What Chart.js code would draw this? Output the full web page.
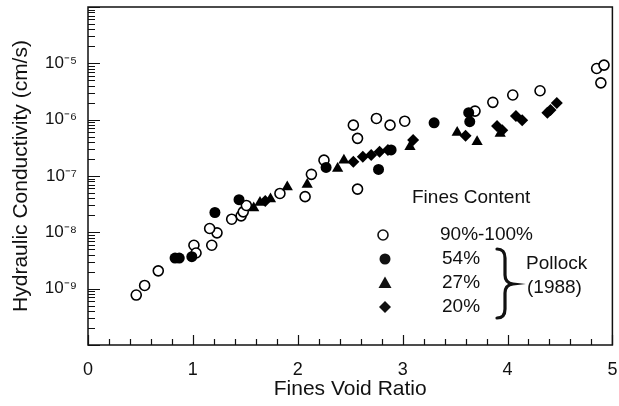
<!DOCTYPE html>
<html>
<head>
<meta charset="utf-8">
<script src="https://cdn.jsdelivr.net/npm/chart.js@4"></script>
<style>
  html, body { margin: 0; padding: 0; background: #fff; }
  #wrap { width: 619px; height: 406px; }
</style>
</head>
<body>
<div id="wrap"><canvas id="c" width="619" height="406"></canvas></div>
<script>
// Fines content 90%-100% (open circles)
const voidRatio90 = [0.46, 0.54, 0.67, 1.01, 1.03, 1.18, 1.23, 1.16, 1.37, 1.46, 1.48, 1.51, 1.83, 2.07, 2.13, 2.25, 2.57, 2.53, 2.57, 2.75, 2.88, 3.02, 3.69, 3.86, 4.05, 4.31, 4.85, 4.92, 4.89];
const k90 = [7.7e-10, 1.14e-9, 2.07e-9, 5.9e-9, 4.3e-9, 5.9e-9, 9.8e-9, 1.17e-8, 1.71e-8, 1.96e-8, 2.31e-8, 3.0e-8, 4.9e-8, 4.3e-8, 1.07e-7, 1.91e-7, 5.85e-8, 8.0e-7, 4.66e-7, 1.05e-6, 8.0e-7, 9.4e-7, 1.42e-6, 2.03e-6, 2.74e-6, 3.26e-6, 8.1e-6, 9.3e-6, 4.5e-6];

// Pollock (1988): 54% fines (filled circles)
const voidRatio54 = [0.83, 0.87, 0.99, 1.21, 1.44, 2.27, 2.77, 2.89, 3.30, 3.63, 3.64];
const k54 = [3.5e-9, 3.5e-9, 3.7e-9, 2.25e-8, 3.8e-8, 1.42e-7, 1.31e-7, 2.9e-7, 8.8e-7, 1.33e-6, 9.2e-7];

// Pollock (1988): 27% fines (triangles)
const voidRatio27 = [1.58, 1.64, 1.74, 1.90, 2.09, 2.38, 2.44, 3.07, 3.52, 3.71, 3.93];
const k27 = [2.7e-8, 3.4e-8, 3.9e-8, 6.4e-8, 7.1e-8, 1.36e-7, 1.9e-7, 3.3e-7, 5.9e-7, 4.05e-7, 5.7e-7];

// Pollock (1988): 20% fines (diamonds)
const voidRatio20 = [1.69, 2.53, 2.62, 2.70, 2.78, 2.86, 3.10, 3.60, 3.90, 3.95, 4.08, 4.14, 4.38, 4.41, 4.47];
const k20 = [3.6e-8, 1.79e-7, 2.19e-7, 2.35e-7, 2.69e-7, 2.88e-7, 4.35e-7, 5.2e-7, 7.7e-7, 6.5e-7, 1.16e-6, 9.8e-7, 1.33e-6, 1.48e-6, 1.97e-6];

// Axis ticks and labels
const xTicks = [0, 1, 2, 3, 4, 5];
const yTicks = [1e-9, 1e-8, 1e-7, 1e-6, 1e-5];
const yTickLabels = ['10⁻⁹', '10⁻⁸', '10⁻⁷', '10⁻⁶', '10⁻⁵'];

// Legend text
const legendTitle = 'Fines Content';
const legendLabels = ['90%-100%', '54%', '27%', '20%'];
const sourceLabel = ['Pollock', '(1988)'];

const FONT = '"Liberation Sans", Arial, Helvetica, sans-serif';
const INK = '#111';

function pts(xs, ys) { return xs.map((x, i) => ({ x: x, y: ys[i] })); }

// Frame and inward tick marks, placed with the chart's own scales
const framePlugin = {
  id: 'frame',
  beforeDatasetsDraw(chart) {
    const { ctx, chartArea: a, scales: { x, y } } = chart;
    ctx.save();
    ctx.strokeStyle = INK;
    ctx.lineWidth = 1.5;
    ctx.strokeRect(a.left, a.top, a.right - a.left, a.bottom - a.top);
    ctx.lineWidth = 1.2;
    ctx.beginPath();
    for (let d = -10; d <= -4; d++) {
      for (let m = 1; m <= 9; m++) {
        const v = m * Math.pow(10, d);
        if (v > 1e-4 * 1.0001) break;
        const py = Math.round(y.getPixelForValue(v)) + 0.5;
        const len = m === 1 ? 12 : 7;
        ctx.moveTo(a.left, py);
        ctx.lineTo(a.left + len, py);
      }
    }
    for (let i = 0; i <= 25; i++) {
      const v = i * 0.2;
      const px = Math.round(x.getPixelForValue(v)) + 0.5;
      const len = i % 5 === 0 ? 10 : 6;
      ctx.moveTo(px, a.bottom);
      ctx.lineTo(px, a.bottom - len);
    }
    ctx.stroke();
    ctx.restore();
  }
};

// Legend block with bracket for the Pollock (1988) series
const legendPlugin = {
  id: 'fineslegend',
  afterDraw(chart) {
    const { ctx } = chart;
    ctx.save();
    ctx.fillStyle = INK;
    ctx.strokeStyle = INK;
    ctx.font = '19px ' + FONT;
    ctx.textBaseline = 'middle';
    ctx.textAlign = 'left';
    ctx.fillText(legendTitle, 412, 198);

    const rows = [235, 259, 283, 307];
    const lx = [440, 442, 442, 442];
    legendLabels.forEach((t, i) => ctx.fillText(t, lx[i], rows[i]));

    // markers
    ctx.lineWidth = 1.6;
    ctx.beginPath(); ctx.arc(383, rows[0], 5, 0, Math.PI * 2);
    ctx.fillStyle = '#fff'; ctx.fill(); ctx.stroke();
    ctx.fillStyle = INK;
    ctx.beginPath(); ctx.arc(385, rows[1], 5.5, 0, Math.PI * 2); ctx.fill();
    ctx.beginPath();
    ctx.moveTo(385, rows[2] - 6.5); ctx.lineTo(391.5, rows[2] + 5); ctx.lineTo(378.5, rows[2] + 5);
    ctx.closePath(); ctx.fill();
    ctx.beginPath();
    ctx.moveTo(385, rows[3] - 6); ctx.lineTo(391, rows[3]); ctx.lineTo(385, rows[3] + 6); ctx.lineTo(379, rows[3]);
    ctx.closePath(); ctx.fill();

    // curly bracket
    ctx.lineWidth = 3.2;
    ctx.lineCap = 'round';
    ctx.beginPath();
    ctx.moveTo(497, 249);
    ctx.quadraticCurveTo(505, 249, 505, 258);
    ctx.lineTo(505, 275);
    ctx.quadraticCurveTo(505, 283, 513, 284);
    ctx.quadraticCurveTo(505, 285, 505, 293);
    ctx.lineTo(505, 309);
    ctx.quadraticCurveTo(505, 318, 497, 318);
    ctx.stroke();

    ctx.fillText(sourceLabel[0], 526, 264);
    ctx.fillText(sourceLabel[1], 527, 288);
    ctx.restore();
  }
};

new Chart(document.getElementById('c'), {
  type: 'scatter',
  data: {
    datasets: [
      { label: legendLabels[0], data: pts(voidRatio90, k90), pointStyle: 'circle', pointRadius: 5,
        pointBackgroundColor: '#fff', pointBorderColor: '#000', pointBorderWidth: 1.6, order: 1 },
      { label: legendLabels[1], data: pts(voidRatio54, k54), pointStyle: 'circle', pointRadius: 5.5,
        pointBackgroundColor: '#000', pointBorderColor: '#000', pointBorderWidth: 0, order: 0 },
      { label: legendLabels[2], data: pts(voidRatio27, k27), pointStyle: 'triangle', pointRadius: 6.5,
        pointBackgroundColor: '#000', pointBorderColor: '#000', pointBorderWidth: 0, order: 0 },
      { label: legendLabels[3], data: pts(voidRatio20, k20), pointStyle: 'rectRot', pointRadius: 6,
        pointBackgroundColor: '#000', pointBorderColor: '#000', pointBorderWidth: 0, order: 0 }
    ]
  },
  options: {
    responsive: false,
    animation: false,
    devicePixelRatio: 1,
    layout: { padding: { left: 0, right: 5, top: 7, bottom: 0 } },
    plugins: { legend: { display: false }, tooltip: { enabled: false } },
    scales: {
      x: {
        type: 'linear', min: 0, max: 5,
        afterBuildTicks: s => { s.ticks = xTicks.map(v => ({ value: v })); },
        afterFit: s => { s.height = 61; s.paddingLeft = 0; s.paddingRight = 0; },
        grid: { display: false }, border: { display: false },
        ticks: { color: INK, font: { family: FONT, size: 18 }, padding: 6, maxRotation: 0, autoSkip: false },
        title: { display: true, text: 'Fines Void Ratio', color: INK,
                 font: { family: FONT, size: 21 }, padding: { top: 0, bottom: 4 } }
      },
      y: {
        type: 'logarithmic', min: 1e-10, max: 1e-4,
        afterBuildTicks: s => { s.ticks = yTicks.map(v => ({ value: v })); },
        afterFit: s => { s.width = 88; s.paddingTop = 0; s.paddingBottom = 0; },
        grid: { display: false }, border: { display: false },
        ticks: { color: INK, font: { family: FONT, size: 17 }, padding: 3, autoSkip: false,
                 callback: (v, i) => yTickLabels[i] },
        title: { display: true, text: 'Hydraulic Conductivity (cm/s)', color: INK,
                 font: { family: FONT, size: 21 }, padding: { top: 9, bottom: 0 } }
      }
    }
  },
  plugins: [framePlugin, legendPlugin]
});
</script>
</body>
</html>
